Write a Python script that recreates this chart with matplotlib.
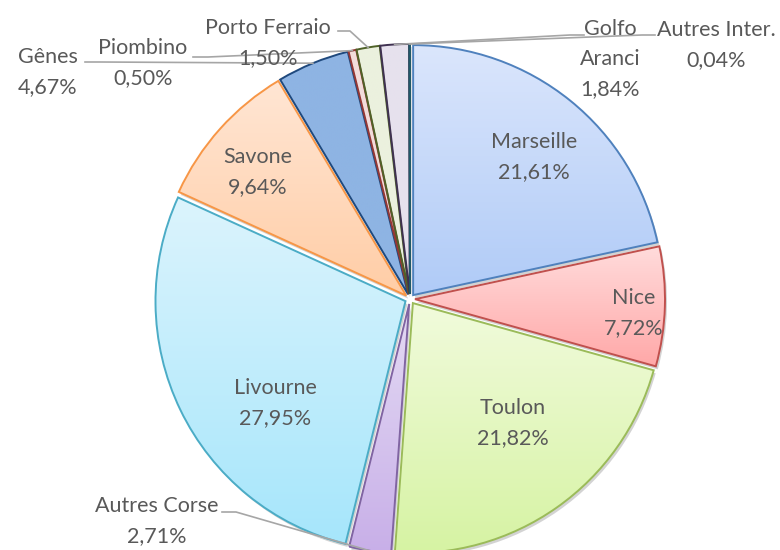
import numpy as np
import matplotlib.pyplot as plt
from matplotlib.colors import LinearSegmentedColormap
from matplotlib.patches import Wedge

ports = ['Marseille', 'Nice', 'Toulon', 'Autres Corse', 'Livourne', 'Savone',
         'Gênes', 'Piombino', 'Porto Ferraio', 'Golfo\nAranci', 'Autres Inter.']
shares = [21.61, 7.72, 21.82, 2.71, 27.95, 9.64, 4.67, 0.50, 1.50, 1.84, 0.04]

# gradient top colour, bottom colour, edge colour
top_colors = ['#dbe6fc', '#ffdcdc', '#f1fbdc', '#e4dbf4', '#dcf4fd', '#ffe6d4',
              '#8eb4e3', '#f2dcdb', '#ebf1de', '#e6e1ed', '#dbeef4']
bot_colors = ['#b0cbf7', '#ffa8a8', '#d6f3a3', '#c8afe8', '#a6e6fb', '#ffcda6',
              '#8eb4e3', '#f2dcdb', '#ebf1de', '#e6e1ed', '#dbeef4']
edge_colors = ['#4f81bd', '#c0504d', '#9bbb59', '#8064a2', '#4bacc6', '#f79646',
               '#1f497d', '#953734', '#4f6228', '#3f3151', '#215968']

# label text centres (pixels, y downwards) and leader line starting points
label_pos = [(534, 157), (634, 313), (513, 423), (157, 521), (275, 403), (258, 172),
             (48, 72), (143, 63), (268, 43), (610, 59), (716, 45)]
leader_start = {3: [(222, 512), (236, 512)], 6: [(85, 62), (100, 62)],
                7: [(193, 57), (208, 57)], 8: [(338, 31), (350, 31)],
                9: [(584, 35), (570, 35)], 10: [(655, 35), (642, 35)]}

W, H = 780, 550
CX, CY, R = 410, H - 299, 250
EXPL = 5

fig = plt.figure(figsize=(7.8, 5.5), dpi=100)
ax = fig.add_axes([0, 0, 1, 1])

wedges, _ = ax.pie(shares, radius=R, center=(CX, CY), startangle=90,
                   counterclock=False, explode=[EXPL] * len(shares),
                   wedgeprops=dict(linewidth=1.4), frame=False)

for w, ct, cb, ec in zip(wedges, top_colors, bot_colors, edge_colors):
    # soft shadow
    sh = Wedge((w.center[0] + 2, w.center[1] - 3), w.r, w.theta1, w.theta2,
               facecolor='#b0b0b0', edgecolor='none', alpha=0.55, zorder=0.5)
    ax.add_patch(sh)
    ext = w.get_path().get_extents()
    cmap = LinearSegmentedColormap.from_list('g', [ct, cb])
    grad = np.linspace(0, 1, 256).reshape(-1, 1)
    im = ax.imshow(grad, cmap=cmap, extent=(ext.x0, ext.x1, ext.y0, ext.y1),
                   origin='upper', aspect='auto', zorder=1, interpolation='bilinear')
    im.set_clip_path(w)
    w.set_facecolor('none')
    w.set_edgecolor(ec)
    w.set_zorder(2)

font = dict(family=['Lato', 'DejaVu Sans'], fontsize=15.5, color='#595959',
            ha='center', va='center', linespacing=1.6, zorder=5)
for i, (name, v) in enumerate(zip(ports, shares)):
    x, y = label_pos[i]
    txt = name + '\n' + f'{v:.2f}'.replace('.', ',') + '%'
    ax.text(x, H - y, txt, **font)
    if i in leader_start:
        w = wedges[i]
        tm = np.deg2rad((w.theta1 + w.theta2) / 2)
        ex = w.center[0] + w.r * np.cos(tm)
        ey = w.center[1] + w.r * np.sin(tm)
        pts = [(px, H - py) for px, py in leader_start[i]] + [(ex, ey)]
        xs, ys = zip(*pts)
        ax.plot(xs, ys, color='#a6a6a6', lw=1.2, zorder=4)

ax.set_xlim(0, W)
ax.set_ylim(0, H)
ax.set_aspect('equal')
ax.axis('off')
fig.savefig('out.png', dpi=100)
